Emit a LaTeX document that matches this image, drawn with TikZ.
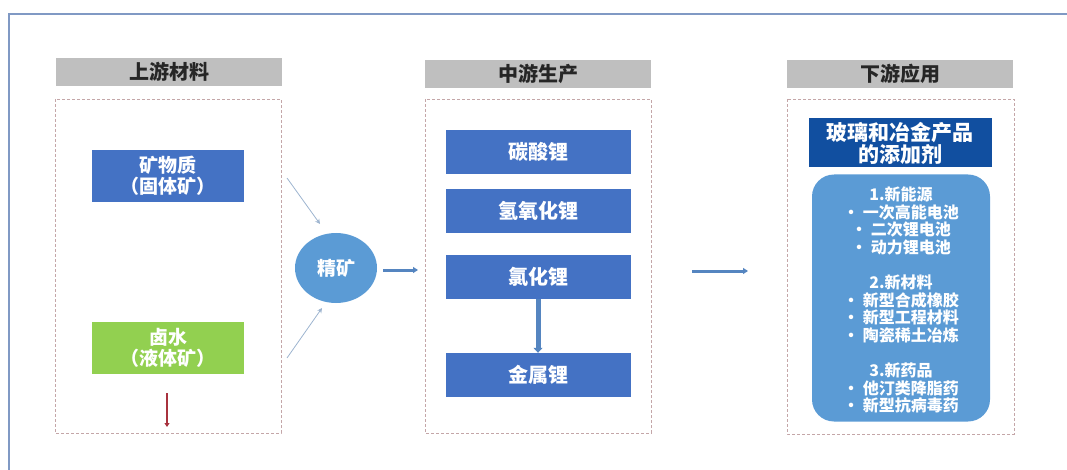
\documentclass[tikz,border=0pt]{standalone}
\usepackage{fontspec}
\setmainfont{Noto Sans CJK SC}
\usepackage{tikz}
\usetikzlibrary{shapes.geometric,arrows.meta,positioning,calc}
\definecolor{headgray}{HTML}{BFBFBF}
\definecolor{boxblue}{HTML}{4472C4}
\definecolor{boxgreen}{HTML}{92D050}
\definecolor{lightblue}{HTML}{5B9BD5}
\definecolor{darkblue}{HTML}{114FA0}
\definecolor{arrowblue}{HTML}{5585C0}
\definecolor{thinblue}{HTML}{9DB4CF}
\definecolor{dashred}{HTML}{C4A6A8}
\definecolor{framecol}{HTML}{8099C4}
\definecolor{darkred}{HTML}{A8323E}

\begin{document}
\begin{tikzpicture}[x=1pt, y=-1pt,
  head/.style={fill=headgray, minimum width=226pt, minimum height=28pt, inner sep=0pt, font=\fontsize{20}{22}\selectfont\bfseries, text=black!85},
  zone/.style={draw=dashred, densely dashed, line width=0.8pt},
  item/.style={fill=boxblue, minimum width=185pt, minimum height=44pt, inner sep=0pt, text=white, font=\fontsize{20}{22}\selectfont\bfseries},
  src/.style={minimum width=152pt, minimum height=52pt, inner sep=0pt, text=white, align=center, font=\fontsize{19}{21}\selectfont\bfseries},
  flow/.style={-{Triangle[length=5pt,width=6pt]}, arrowblue, line width=3pt},
  feed/.style={-{Stealth[length=5pt,width=5pt]}, thinblue, line width=0.8pt}]
  \useasboundingbox (0,0) rectangle (1067,470);
  % outer frame
  \draw[framecol, line width=1.6pt] (9,470) -- (9,14) -- (1067,14);

  % headers
  \node[head] (up) at (169,72) {上游材料};
  \node[head] (mid) at (538,74) {中游生产};
  \node[head] (down) at (900,74) {下游应用};

  % dashed zones
  \draw[zone] (55,99) rectangle (281,433);
  \draw[zone] (425,99) rectangle (651,433);
  \draw[zone] (787,99) rectangle (1014,434);

  % upstream
  \node[src, fill=boxblue] (ore) at (168,176) {矿物质\\（固体矿）};
  \node[src, fill=boxgreen] (brine) at (168,348) {卤水\\（液体矿）};
  \coordinate (down1) at (167,393);
  \coordinate (down2) at (167,427);
  \draw[-{Triangle[length=4pt,width=5pt]}, darkred, line width=1.2pt] (down1) -- (down2);

  \node[ellipse, fill=lightblue, minimum width=82pt, minimum height=70pt, inner sep=0pt, text=white, font=\fontsize{19}{21}\selectfont\bfseries] (conc) at (336,268) {精矿};
  \coordinate (in1) at (287,178);
  \coordinate (in2) at (287,358);
  \draw[feed] (in1) -- (320,224);
  \draw[feed] (in2) -- (322,308);
  \coordinate (out0) at (383,270);
  \coordinate (out1) at (418,270);
  \draw[flow] (out0) -- (out1);

  % midstream
  \node[item] (carb) at (538,152) {碳酸锂};
  \node[item] (hydr) at (538,211) {氢氧化锂};
  \node[item] (chlo) at (538,277) {氯化锂};
  \node[item] (metal) at (538,375) {金属锂};
  \draw[flow, line width=5pt, -{Triangle[length=5pt,width=9pt]}] (chlo) -- (metal);
  \coordinate (a1) at (692,271);
  \coordinate (a2) at (748,271);
  \draw[flow] (a1) -- (a2);

  % downstream
  \node[fill=darkblue, minimum width=183pt, minimum height=49pt, inner sep=0pt, text=white, align=center, font=\fontsize{21}{22}\selectfont\bfseries] (glass) at (900,143) {玻璃和冶金产品\\的添加剂};
  \node[fill=lightblue, rounded corners=22pt, minimum width=178pt, minimum height=247pt, inner sep=0pt] (apps) at (901,298) {};
  \node[text=white, align=center, font=\fontsize{16}{17.6}\selectfont\bfseries] (appstext) at (901,300) {1.新能源\\•\ 一次高能电池\\•\ 二次锂电池\\•\ 动力锂电池\\[17.6pt]2.新材料\\•\ 新型合成橡胶\\•\ 新型工程材料\\•\ 陶瓷稀土冶炼\\[17.6pt]3.新药品\\•\ 他汀类降脂药\\•\ 新型抗病毒药};
\end{tikzpicture}
\end{document}
